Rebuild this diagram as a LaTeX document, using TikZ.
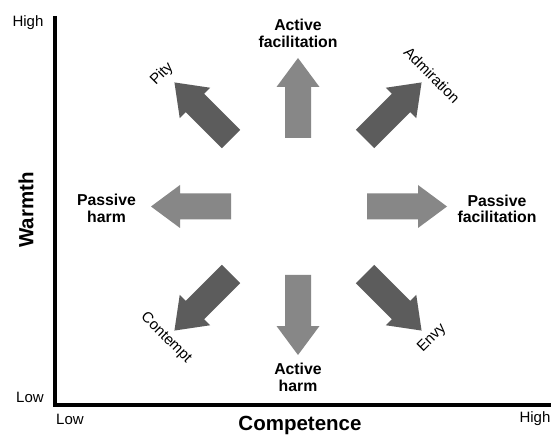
\documentclass[tikz,border=0pt]{standalone}
\usepackage{fontspec}
\setmainfont{Liberation Sans}
\definecolor{lightarrow}{RGB}{135,135,135}
\definecolor{darkarrow}{RGB}{92,92,92}
\tikzset{
  fatarrow/.pic={\fill (0,-13) -- (51,-13) -- (51,-21.5) -- (80,0) -- (51,21.5) -- (51,13) -- (0,13) -- cycle;},
  boldlabel/.style={font=\fontsize{15.8}{16.5}\selectfont\bfseries, align=center, inner sep=0pt},
  plainlabel/.style={font=\fontsize{15}{17}\selectfont, inner sep=0pt},
  axislabel/.style={font=\fontsize{20.5}{24}\selectfont\bfseries, inner sep=0pt},
  axisline/.style={line width=3.5pt}
}
\begin{document}
\begin{tikzpicture}[x=1pt,y=-1pt]
\useasboundingbox (0,0) rectangle (551,435);
\fill[white] (0,0) rectangle (551,435);
% axes
\coordinate (top) at (55,16);
\coordinate (origin) at (55,405);
\coordinate (right) at (551,405);
\draw[axisline] (top) -- (origin) -- (right);
% axis labels
\node[plainlabel] (whigh) at (28,23) {High};
\node[plainlabel] (wlow) at (30,397) {Low};
\node[plainlabel] (clow) at (70,419) {Low};
\node[plainlabel] (chigh) at (535,419) {High};
\node[axislabel] (comp) at (300,425) {Competence};
\node[axislabel, rotate=90] (warm) at (26,210) {Warmth};
% straight arrows
\pic[fill=lightarrow, rotate=90] at (298,138) {fatarrow};
\pic[fill=lightarrow, rotate=-90] at (298,275) {fatarrow};
\pic[fill=lightarrow, rotate=180] at (231,206.5) {fatarrow};
\pic[fill=lightarrow] at (367,206.5) {fatarrow};
% diagonal arrows
\pic[fill=darkarrow, rotate=135] at (231,139) {fatarrow};
\pic[fill=darkarrow, rotate=45] at (365,139) {fatarrow};
\pic[fill=darkarrow, rotate=225] at (231,274) {fatarrow};
\pic[fill=darkarrow, rotate=-45] at (365,274) {fatarrow};
% labels
\node[boldlabel] (af) at (298,33.5) {Active\\facilitation};
\node[boldlabel] (ah) at (298,377.5) {Active\\harm};
\node[boldlabel] (ph) at (106.5,208.5) {Passive\\harm};
\node[boldlabel] (pf) at (497,209) {Passive\\facilitation};
\node[plainlabel, rotate=45] (pity) at (162,74) {Pity};
\node[plainlabel, rotate=-45] (adm) at (432,75) {Admiration};
\node[plainlabel, rotate=-45] (cont) at (166,338) {Contempt};
\node[plainlabel, rotate=45] (envy) at (432,338) {Envy};
\end{tikzpicture}
\end{document}
